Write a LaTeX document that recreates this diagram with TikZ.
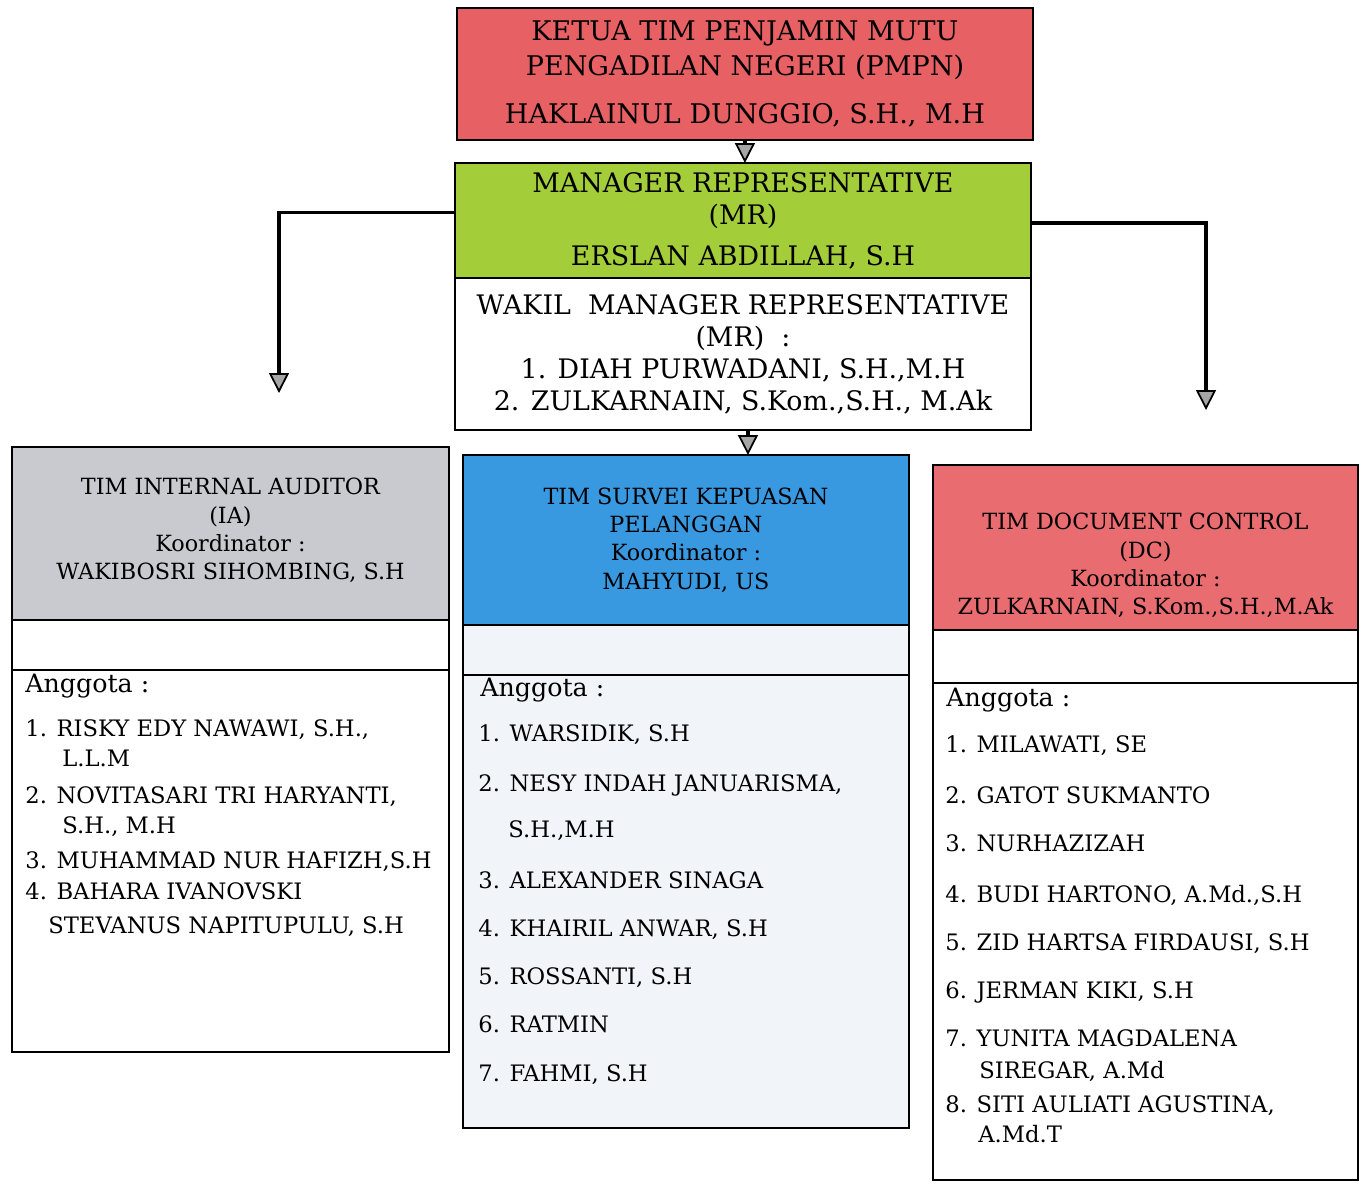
\documentclass[tikz,border=0pt]{standalone}
\usepackage{fontspec}
\setmainfont{DejaVu Serif}
\usetikzlibrary{positioning,arrows.meta}

\definecolor{pmpnred}{RGB}{230,96,100}
\definecolor{dcred}{RGB}{232,108,112}
\definecolor{mrgreen}{RGB}{164,205,58}
\definecolor{survblue}{RGB}{56,152,224}
\definecolor{iagray}{RGB}{200,202,207}
\definecolor{survpale}{RGB}{241,245,250}

\newcommand\pmpnfont{\fontsize{15.4}{19.9}\selectfont}
\newcommand\mrfont{\fontsize{15.3}{18.2}\selectfont}
\newcommand\teamfont{\fontsize{12.7}{16.1}\selectfont}
\newcommand\anggotafont{\fontsize{14.4}{18}\selectfont}
\newcommand\memberfont{\fontsize{12.9}{16}\selectfont}

\tikzset{
  box/.style={draw, line width=1.1pt, inner sep=0pt, outer sep=0pt, anchor=north west},
  conn/.style={line width=1.8pt, -{Triangle[length=0.40cm,width=0.40cm,line width=1pt,fill=gray!70]}},
  teamtitle/.style={align=center, font=\teamfont, inner sep=0pt},
  anggota/.style={anchor=base west, font=\anggotafont, inner sep=0pt},
  member/.style={anchor=base west, font=\memberfont, inner sep=0pt}
}

\begin{document}
\begin{tikzpicture}[x=0.02cm,y=-0.02cm]
\useasboundingbox (0,0) rectangle (1361,1184);

% ketua dan MR
\node[box,fill=pmpnred,minimum width=11.52cm,minimum height=2.64cm,align=center,font=\pmpnfont] (ketua) at (457,8)
  {KETUA TIM PENJAMIN MUTU\\PENGADILAN NEGERI (PMPN)\\[0.28cm]HAKLAINUL DUNGGIO, S.H., M.H};
\node[box,fill=mrgreen,minimum width=11.52cm,minimum height=2.30cm,align=center,font=\mrfont] (mrhead) at (455,163)
  {MANAGER REPRESENTATIVE\\(MR)\\[0.18cm]ERSLAN ABDILLAH, S.H};
\node[box,fill=white,minimum width=11.52cm,minimum height=3.04cm,align=center,font=\mrfont,below=0pt of mrhead] (mrwakil)
  {WAKIL~~MANAGER REPRESENTATIVE\\(MR)~~:\\1. DIAH PURWADANI, S.H.,M.H\\2. ZULKARNAIN, S.Kom.,S.H., M.Ak};

% tim internal auditor
\node[box,fill=iagray,minimum width=8.74cm,minimum height=3.46cm] (iahead) at (12,447) {};
\node[box,fill=white,minimum width=8.74cm,minimum height=1.0cm,below=0pt of iahead] (iagap) {};
\node[box,fill=white,minimum width=8.74cm,minimum height=7.64cm,below=0pt of iagap] (iabody) {};
\node[teamtitle] (iatitle) at ([yshift=0.06cm]iahead.center)
  {TIM INTERNAL AUDITOR\\(IA)\\Koordinator :\\WAKIBOSRI SIHOMBING, S.H};
\node[anggota] (iaang) at (25,692) {Anggota :};
\node[member] (ia1) at (25,736) {1. RISKY EDY NAWAWI, S.H.,};
\node[member] (ia1b) at (62,766) {L.L.M};
\node[member] (ia2) at (25,803) {2. NOVITASARI TRI HARYANTI,};
\node[member] (ia2b) at (62,833) {S.H., M.H};
\node[member] (ia3) at (25,868) {3. MUHAMMAD NUR HAFIZH,S.H};
\node[member] (ia4) at (25,899) {4. BAHARA IVANOVSKI};
\node[member] (ia4b) at (48,933) {STEVANUS NAPITUPULU, S.H};

% tim survei kepuasan pelanggan
\node[box,fill=survblue,minimum width=8.92cm,minimum height=3.40cm] (survhead) at (463,455) {};
\node[box,fill=survpale,minimum width=8.92cm,minimum height=1.0cm,below=0pt of survhead] (survgap) {};
\node[box,fill=survpale,minimum width=8.92cm,minimum height=9.06cm,below=0pt of survgap] (survbody) {};
\node[teamtitle] (survtitle) at (survhead.center)
  {TIM SURVEI KEPUASAN\\PELANGGAN\\Koordinator :\\MAHYUDI, US};
\node[anggota] (survang) at (480,696) {Anggota :};
\node[member] (surv1) at (478,741) {1. WARSIDIK, S.H};
\node[member] (surv2) at (478,791) {2. NESY INDAH JANUARISMA,};
\node[member] (surv2b) at (508,837) {S.H.,M.H};
\node[member] (surv3) at (478,888) {3. ALEXANDER SINAGA};
\node[member] (surv4) at (478,936) {4. KHAIRIL ANWAR, S.H};
\node[member] (surv5) at (478,984) {5. ROSSANTI, S.H};
\node[member] (surv6) at (478,1032) {6. RATMIN};
\node[member] (surv7) at (478,1081) {7. FAHMI, S.H};

% tim document control
\node[box,fill=dcred,minimum width=8.50cm,minimum height=3.30cm] (dchead) at (933,465) {};
\node[box,fill=white,minimum width=8.50cm,minimum height=1.06cm,below=0pt of dchead] (dcgap) {};
\node[box,fill=white,minimum width=8.50cm,minimum height=9.94cm,below=0pt of dcgap] (dcbody) {};
\node[teamtitle] (dctitle) at ([yshift=-0.36cm]dchead.center)
  {TIM DOCUMENT CONTROL\\(DC)\\Koordinator :\\ZULKARNAIN, S.Kom.,S.H.,M.Ak};
\node[anggota] (dcang) at (946,706) {Anggota :};
\node[member] (dc1) at (945,752) {1. MILAWATI, SE};
\node[member] (dc2) at (945,803) {2. GATOT SUKMANTO};
\node[member] (dc3) at (945,851) {3. NURHAZIZAH};
\node[member] (dc4) at (945,902) {4. BUDI HARTONO, A.Md.,S.H};
\node[member] (dc5) at (945,950) {5. ZID HARTSA FIRDAUSI, S.H};
\node[member] (dc6) at (945,998) {6. JERMAN KIKI, S.H};
\node[member] (dc7) at (945,1046) {7. YUNITA MAGDALENA};
\node[member] (dc7b) at (979,1078) {SIREGAR, A.Md};
\node[member] (dc8) at (945,1112) {8. SITI AULIATI AGUSTINA,};
\node[member] (dc8b) at (978,1142) {A.Md.T};

% panah
\coordinate (iatip) at (279,393);
\coordinate (dctip) at (1206,410);
\draw[conn] (ketua.south) -- (ketua.south |- mrhead.north);
\draw[conn] ([yshift=0.16cm]mrhead.west) -| (iatip);
\draw[conn] ([yshift=-0.05cm]mrhead.east) -| (dctip);
\draw[conn] ([xshift=0.1cm]mrwakil.south) -- ([xshift=0.1cm]mrwakil.south |- survhead.north);
\end{tikzpicture}
\end{document}
